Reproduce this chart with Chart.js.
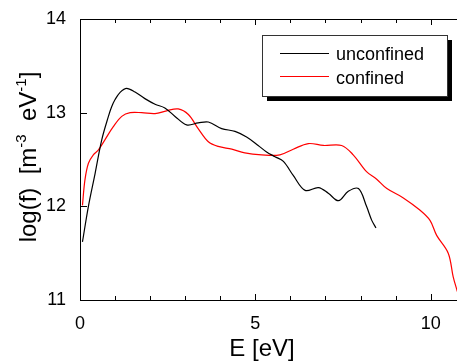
<!DOCTYPE html>
<html>
<head>
<meta charset="utf-8">
<script src="https://cdn.jsdelivr.net/npm/chart.js@4.4.0/dist/chart.umd.min.js"></script>
<style>
html,body{margin:0;padding:0;background:#fff;}
#wrap{width:457px;height:361px;position:relative;}
</style>
</head>
<body>
<div id="wrap"><canvas id="c" width="457" height="361"></canvas></div>
<script>
// ---- data ----
const energyUnconfined = [0.07,0.24,0.43,0.62,0.81,0.90,1.0,1.15,1.33,1.57,1.85,2.14,2.42,2.71,3.04,3.37,3.66,4.04,4.42,4.75,5.08,5.32,5.56,5.80,6.08,6.42,6.80,7.08,7.37,7.65,7.94,8.17,8.32,8.44];
const logUnconfined    = [11.62,12.0,12.35,12.71,12.96,13.06,13.14,13.22,13.26,13.22,13.15,13.09,13.05,12.96,12.87,12.89,12.90,12.83,12.80,12.74,12.65,12.58,12.53,12.48,12.33,12.17,12.20,12.14,12.06,12.16,12.19,12.00,11.85,11.77];
const energyConfined = [0.07,0.14,0.24,0.38,0.52,0.71,0.95,1.19,1.43,1.76,2.14,2.47,2.80,3.09,3.37,3.66,3.94,4.33,4.70,5.18,5.70,6.08,6.51,6.94,7.46,7.79,8.17,8.46,8.75,9.22,9.69,9.98,10.17,10.50,10.64,10.76];
const logConfined    = [12.01,12.28,12.46,12.55,12.60,12.71,12.85,12.96,13.00,13.00,12.99,13.02,13.04,12.98,12.83,12.69,12.64,12.61,12.57,12.55,12.55,12.61,12.67,12.65,12.65,12.55,12.37,12.29,12.19,12.09,11.96,11.85,11.69,11.50,11.25,11.09];
const seriesLabels = ['unconfined','confined'];
const seriesColors = ['#000000','#ff0000'];
const xTickLabels = [0,5,10];
const yTickLabels = [11,12,13,14];
const xTitle = 'E [eV]';

function pts(xs, ys){ return xs.map((x,i)=>({x:x,y:ys[i]})); }

const FONT = '"Liberation Sans", Arial, sans-serif';

const decor = {
  id:'decor',
  afterDraw(chart){
    const ctx = chart.ctx;
    const a = chart.chartArea;
    const xs = chart.scales.x, ys = chart.scales.y;
    ctx.save();
    ctx.strokeStyle = '#000'; ctx.lineWidth = 1;
    // top frame
    ctx.beginPath(); ctx.moveTo(a.left, Math.round(a.top)+0.5); ctx.lineTo(a.right, Math.round(a.top)+0.5); ctx.stroke();
    // x ticks (inward), bottom and top
    for (let v = 0; v <= 10; v++) {
      const px = Math.round(xs.getPixelForValue(v)) + 0.5;
      const major = (v % 5 === 0);
      const len = major ? 6 : 4;
      ctx.beginPath();
      ctx.moveTo(px, a.bottom); ctx.lineTo(px, a.bottom - len);
      ctx.moveTo(px, a.top); ctx.lineTo(px, a.top + len);
      ctx.stroke();
    }
    // y ticks (inward)
    yTickLabels.forEach(v => {
      const py = Math.round(ys.getPixelForValue(v)) + 0.5;
      ctx.beginPath(); ctx.moveTo(a.left, py); ctx.lineTo(a.left + 7, py); ctx.stroke();
    });
    // legend with shadow
    const lx = 262, ly = 35, lw = 185, lh = 61;
    ctx.fillStyle = '#000';
    ctx.fillRect(lx + 5, ly + 5, lw, lh);
    ctx.fillStyle = '#fff';
    ctx.fillRect(lx, ly, lw, lh);
    ctx.strokeStyle = '#333';
    ctx.strokeRect(lx + 0.5, ly + 0.5, lw, lh);
    ctx.font = '18px ' + FONT;
    ctx.textBaseline = 'alphabetic';
    ctx.textAlign = 'left';
    chart.data.datasets.forEach((ds, i) => {
      const yy = [53.5, 76.5][i];
      ctx.strokeStyle = ds.borderColor; ctx.lineWidth = 1;
      ctx.beginPath(); ctx.moveTo(280, yy); ctx.lineTo(329, yy); ctx.stroke();
      ctx.fillStyle = '#000';
      ctx.fillText(ds.label, 336, [60, 83.5][i]);
    });
    // x title
    ctx.font = '24px ' + FONT;
    ctx.textAlign = 'center';
    ctx.fillText(xTitle, 262, 356);
    // y title with superscripts
    const segs = [
      ['log(f)  [m', 24, 0], ['-3', 15, -10], ['  eV', 24, 0], ['-1', 15, -10], [']', 24, 0]
    ];
    let total = 0;
    segs.forEach(s => { ctx.font = s[1] + 'px ' + FONT; total += ctx.measureText(s[0]).width; });
    ctx.translate(36, 157);
    ctx.rotate(-Math.PI/2);
    ctx.textAlign = 'left';
    let xpos = -total/2;
    segs.forEach(s => {
      ctx.font = s[1] + 'px ' + FONT;
      ctx.fillText(s[0], xpos, s[2]);
      xpos += ctx.measureText(s[0]).width;
    });
    ctx.restore();
  }
};

new Chart(document.getElementById('c'), {
  type: 'scatter',
  data: {
    datasets: [
      { label: seriesLabels[0], data: pts(energyUnconfined, logUnconfined), showLine: true, borderColor: seriesColors[0], backgroundColor: seriesColors[0], borderWidth: 1.2, pointRadius: 0, tension: 0.35 },
      { label: seriesLabels[1], data: pts(energyConfined, logConfined), showLine: true, borderColor: seriesColors[1], backgroundColor: seriesColors[1], borderWidth: 1.2, pointRadius: 0, tension: 0.35 }
    ]
  },
  options: {
    responsive: false,
    animation: false,
    layout: { padding: { top: 19, right: 0, left: 0, bottom: 0 } },
    plugins: { legend: { display: false }, tooltip: { enabled: false } },
    scales: {
      x: {
        type: 'linear', min: 0, max: 10.75,
        grid: { display: false },
        border: { display: true, color: '#000', width: 1 },
        ticks: {
          stepSize: 1, includeBounds: false, autoSkip: false, maxRotation: 0,
          color: '#000', font: { size: 18, family: FONT }, padding: 5,
          callback: (v) => xTickLabels.includes(v) ? String(v) : null
        },
        afterFit: (s) => { s.height = 61; }
      },
      y: {
        type: 'linear', min: 11, max: 14,
        grid: { display: false },
        border: { display: true, color: '#000', width: 1 },
        ticks: {
          stepSize: 1, color: '#000', font: { size: 18, family: FONT }, padding: 6,
          callback: (v) => yTickLabels.includes(v) ? String(v) : null
        },
        afterFit: (s) => { s.width = 80; }
      }
    }
  },
  plugins: [decor]
});
</script>
</body>
</html>
